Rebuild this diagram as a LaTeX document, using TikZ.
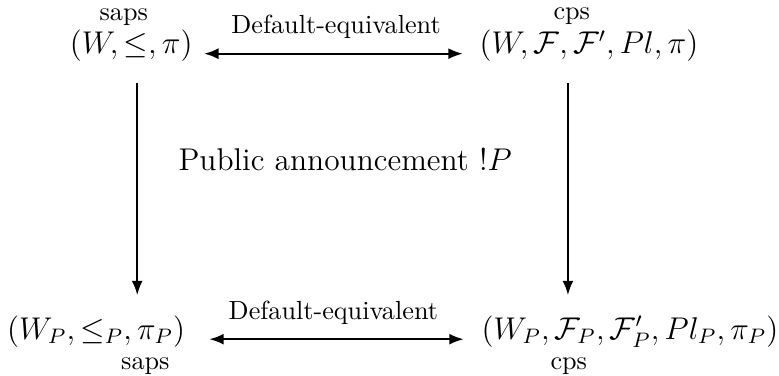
\documentclass[tikz,border=0pt]{standalone}
\usepackage{amsmath,amssymb}
\usepackage{tikz}
\usetikzlibrary{arrows,arrows.meta,positioning,calc}

\begin{document}
\begin{tikzpicture}[>={Latex[length=5.5pt,width=4.2pt]},
    frame/.style={font=\large, inner sep=0pt, anchor=base},
    kind/.style={inner sep=0pt, anchor=base},
    equiv/.style={<->, line width=0.8pt},
    announce/.style={->, line width=0.8pt, shorten <=8.1pt, shorten >=7.6pt}]
    \useasboundingbox (0,0) rectangle (10.45,-5.04);

    % Top row
    \node[kind] (sapsTop) at (1.66,-0.27) {saps};
    \node[kind] (cpsTop) at (7.67,-0.26) {cps};
    \node[frame] (saps) at (1.76,-0.72) {$(W,\leq,\pi)$};
    \node[frame] (cps) at (7.90,-0.72) {$(W,\mathcal{F},\mathcal{F}',Pl,\pi)$};
    \draw[equiv, shorten <=4.2pt, shorten >=6.2pt] (saps.base east) -- node[above=2pt] {Default-equivalent} (cps.base west);

    % Bottom row
    \node[frame] (sapsP) at (1.29,-4.55) {$(W_P,\leq_P,\pi_P)$};
    \node[frame] (cpsP) at (8.45,-4.55) {$(W_P,\mathcal{F}_P,\mathcal{F}'_P,Pl_P,\pi_P)$};
    \node[kind] (sapsBot) at (1.95,-4.95) {saps};
    \node[kind] (cpsBot) at (7.63,-4.95) {cps};
    \draw[equiv, shorten <=9pt, shorten >=6.6pt] (sapsP.base east) -- node[above=2pt] {Default-equivalent} (cpsP.base west);

    % Announcement
    \node (ann) at (4.63,-2.14) {\large Public announcement $!P$};
    \draw[announce] ([xshift=2.3pt]saps.south) -- ([xshift=2.3pt]saps.south |- sapsP.north);
    \draw[announce] ([xshift=-8pt]cps.south) -- ([xshift=-8pt]cps.south |- cpsP.north);
\end{tikzpicture}
\end{document}
